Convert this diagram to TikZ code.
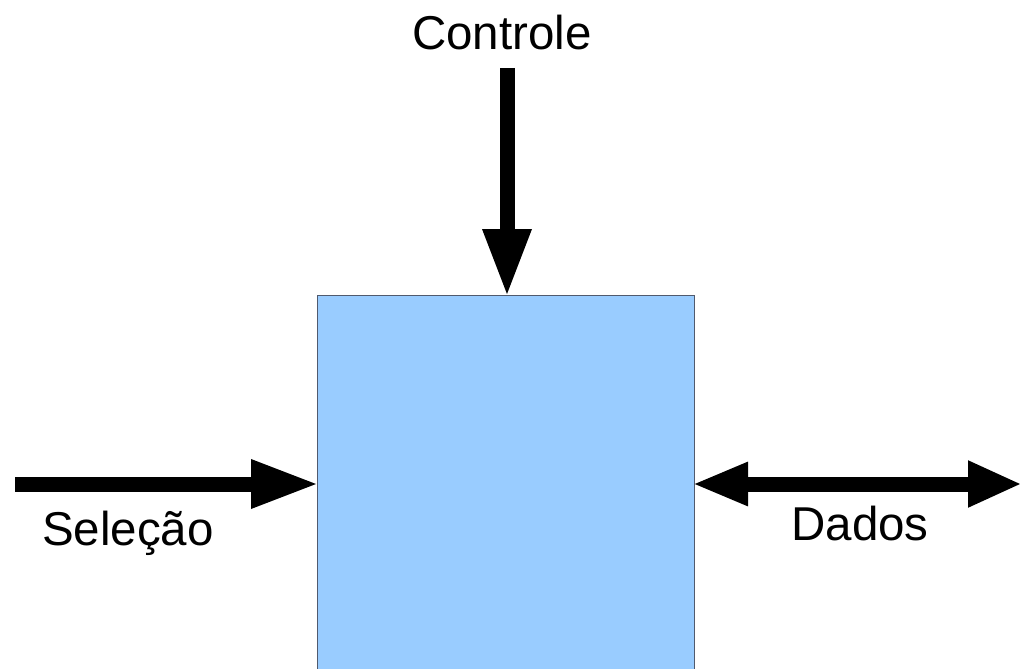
\documentclass[tikz,border=0pt]{standalone}
\usepackage{fontspec}
\setmainfont{Liberation Sans}
\usetikzlibrary{arrows.meta}
\definecolor{boxfill}{HTML}{99CCFF}
\definecolor{boxline}{RGB}{80,90,110}
\tikzset{
  x=1pt, y=-1pt,
  box/.style={draw=boxline, line width=1pt, fill=boxfill, minimum width=377pt, minimum height=425pt, inner sep=0pt, outer sep=0pt},
  bigarrow/.style={line width=15pt, shorten >=-2pt, -{Triangle[length=68pt,width=45pt]}},
  dblarrow/.style={line width=15pt, shorten <=-2pt, shorten >=-2pt, {Triangle[length=56pt,width=40pt]}-{Triangle[length=54pt,width=43pt]}},
  lbl/.style={font=\fontsize{47.5pt}{52pt}\selectfont, anchor=base, inner sep=0pt}
}
\begin{document}
\begin{tikzpicture}
\useasboundingbox (0,0) rectangle (1020,669);
\clip (0,0) rectangle (1020,669);
\node[box] (blk) at (505.5,507.5) {};
\coordinate (ctop) at (507,68);
\coordinate (sleft) at (15,484);
\coordinate (dright) at (1020,484);
\draw[bigarrow] (ctop) -- (ctop |- blk.north);
\draw[bigarrow] (sleft) -- (sleft -| blk.west);
\draw[dblarrow] (dright -| blk.east) -- (dright);
\node[lbl] (lc) at (502,50) {Controle};
\node[lbl] (ls) at (128,545) {Seleção};
\node[lbl] (ld) at (860,540) {Dados};
\end{tikzpicture}
\end{document}
